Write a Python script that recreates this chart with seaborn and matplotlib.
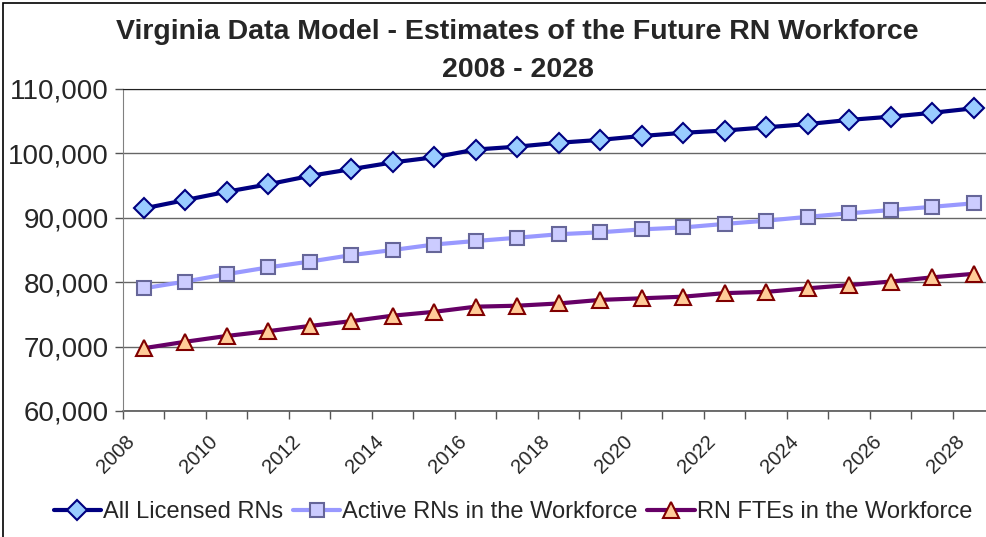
import matplotlib
matplotlib.use("Agg")
import matplotlib.pyplot as plt
import matplotlib.ticker as mticker
import matplotlib.transforms as mtransforms
import pandas as pd
import seaborn as sns

years = list(range(2008, 2029))
all_licensed = [91450, 92750, 94050, 95200, 96500, 97550, 98600, 99400, 100600, 101050, 101650,
                102100, 102700, 103200, 103550, 104050, 104550, 105200, 105700, 106300, 107000]
active_rns = [79050, 80100, 81250, 82300, 83200, 84200, 85000, 85850, 86400, 86900, 87450,
              87750, 88200, 88500, 89050, 89550, 90150, 90700, 91200, 91700, 92250]
rn_ftes = [69750, 70750, 71650, 72400, 73200, 73950, 74800, 75400, 76200, 76350, 76700,
           77250, 77500, 77750, 78300, 78500, 79050, 79550, 80100, 80750, 81300]

series_names = ["All Licensed RNs", "Active RNs in the Workforce", "RN FTEs in the Workforce"]

df = pd.DataFrame({"year": years,
                   series_names[0]: all_licensed,
                   series_names[1]: active_rns,
                   series_names[2]: rn_ftes})
long = df.melt(id_vars="year", var_name="series", value_name="value")

sns.set_style("white")
plt.rcParams['font.family'] = ['Liberation Sans', 'DejaVu Sans']

fig = plt.figure(figsize=(9.86, 5.37), dpi=100)
ax = fig.add_axes([123 / 986, 1 - 411 / 537, 1 - 123 / 986, (411 - 89) / 537])

# line colour, marker, marker face, marker edge, marker size
styles = {
    series_names[0]: ("#000080", "D", "#99CCFF", "#000080", 10),
    series_names[1]: ("#9999FF", "s", "#CCCCFF", "#666699", 10.5),
    series_names[2]: ("#660066", "^", "#FFCC99", "#800000", 12),
}
for name in series_names:
    col, mk, face, edge, ms = styles[name]
    sns.lineplot(data=long[long.series == name], x="year", y="value", ax=ax,
                 color=col, lw=3, marker=mk, markersize=ms,
                 markerfacecolor=face, markeredgecolor=edge, markeredgewidth=1.5,
                 label=name)

ax.set_xlim(2007.5, 2028.3)
ax.set_ylim(60000, 110000)
ax.yaxis.set_major_locator(mticker.MultipleLocator(10000))
ax.yaxis.set_major_formatter(mticker.StrMethodFormatter("{x:,.0f}"))
ax.grid(axis="y", color="#666666", lw=1)
ax.set_axisbelow(True)
for s in ["right", "bottom"]:
    ax.spines[s].set_visible(False)
ax.spines["top"].set_color("#222222")
ax.spines["left"].set_color("#808080")
ax.axhline(60000, color="#555555", lw=1.2, clip_on=False)

ax.set_xticks(years[::2])
ax.set_xticklabels([str(y) for y in years[::2]], rotation=45, ha="right",
                   rotation_mode="anchor", fontsize=14.5)
ax.set_xticks([y - 0.5 for y in years], minor=True)
ax.tick_params(axis="x", which="major", length=0, pad=15)
ax.tick_params(axis="x", which="minor", length=6, width=1, color="#555555", direction="out",
               bottom=True)
ax.tick_params(axis="y", labelsize=20, length=6, width=1, color="#555555", direction="out",
               left=True, pad=4)
# nudge the slanted year labels left, like Excel places them
shift = mtransforms.ScaledTranslation(-19 / 100, 0, fig.dpi_scale_trans)
for lbl in ax.get_xticklabels():
    lbl.set_transform(lbl.get_transform() + shift)
ax.set_xlabel("")
ax.set_ylabel("")

fig.suptitle("Virginia Data Model - Estimates of the Future RN Workforce\n2008 - 2028",
             x=0.525, y=0.965, fontsize=20.5, fontweight="bold", linespacing=1.6)

ax.legend(loc="center", bbox_to_anchor=(0.452, -0.314), ncol=3, frameon=False,
          fontsize=17, handlelength=2.0, handletextpad=0.1, columnspacing=0.4)

fig.patches.append(plt.Rectangle((3 / 986, -0.1), 1.2, 1 - 3 / 537 + 0.1,
                                 transform=fig.transFigure, fill=False,
                                 edgecolor="black", lw=1.2))

fig.savefig("out.png", dpi=100, facecolor="white")
